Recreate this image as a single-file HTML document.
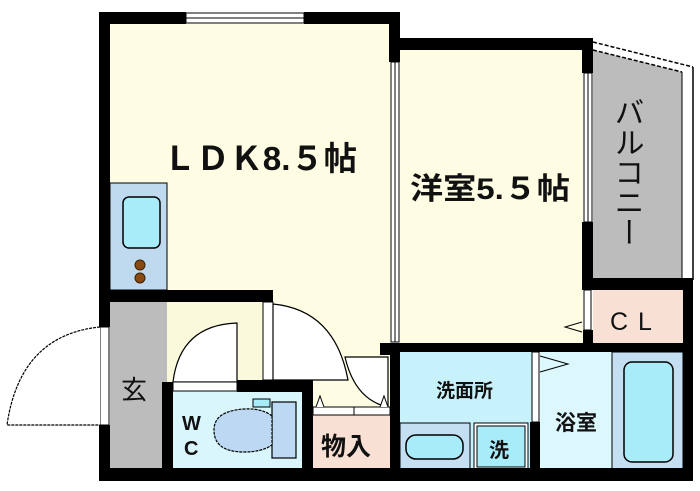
<!DOCTYPE html>
<html><head><meta charset="utf-8"><style>
html,body{margin:0;padding:0;background:#fff;}
svg{display:block;}
text{font-family:"Liberation Sans","Noto Sans CJK JP",sans-serif;font-weight:bold;fill:#111;}
</style></head><body>
<svg width="700" height="491" viewBox="0 0 700 491" xmlns="http://www.w3.org/2000/svg">
<rect width="700" height="491" fill="#fff"/>
<!-- room fills -->
<rect x="110" y="24" width="280" height="278" fill="#fefde3"/>
<rect x="400" y="50" width="183" height="294" fill="#fefde3"/>
<rect x="167" y="302" width="100" height="80" fill="#fbf9dc"/>
<rect x="273" y="290" width="117" height="120" fill="#fefde3"/>
<polygon points="593,50 682,72 682,278 593,278" fill="#bcbcbc"/>
<line x1="593" y1="42" x2="693" y2="67" stroke="#000" stroke-width="1.5" stroke-dasharray="4,2"/>
<line x1="593" y1="50" x2="682" y2="72" stroke="#000" stroke-width="1.5" stroke-dasharray="4,2"/>
<line x1="693" y1="67" x2="693" y2="280" stroke="#000" stroke-width="1.5"/>
<line x1="682" y1="72" x2="682" y2="278" stroke="#000" stroke-width="1"/>
<rect x="593" y="290" width="90" height="53" fill="#f8e0d4"/>
<rect x="110" y="183" width="57" height="107" fill="#bfd9ee" stroke="#000" stroke-width="1"/>
<rect x="123" y="197" width="37" height="51" rx="6" fill="#a8ecfa" stroke="#000" stroke-width="1.5"/>
<circle cx="140" cy="265" r="5" fill="#8a4a14" stroke="#3a2000"/>
<circle cx="140" cy="278" r="5" fill="#8a4a14" stroke="#3a2000"/>
<rect x="110" y="302" width="57" height="168" fill="#bcbcbc"/>
<rect x="173" y="390" width="130" height="80" fill="#d8f6fb"/>
<rect x="313" y="415" width="77" height="55" fill="#f8e0d4"/>
<rect x="400" y="352" width="132" height="118" fill="#c8f2fb"/>
<rect x="400" y="423" width="70" height="47" fill="#c5dff2" stroke="#000" stroke-width="1"/>
<rect x="406" y="435" width="57" height="24" rx="10" fill="#a8ecfa" stroke="#000" stroke-width="1.5"/>
<rect x="474" y="423" width="54" height="47" fill="#fff" stroke="#000" stroke-width="1"/>
<rect x="477" y="426" width="48" height="41" fill="#a8ecfa" stroke="#000" stroke-width="1"/>
<rect x="540" y="352" width="72" height="118" fill="#dcf8fc"/>
<rect x="612" y="352" width="71" height="118" fill="#c5dff2" stroke="#000" stroke-width="1"/>
<rect x="624" y="362" width="49" height="100" rx="8" fill="#a8ecfa" stroke="#000" stroke-width="1.5"/>
<!-- walls -->
<g fill="#000">
<rect x="99" y="12" width="87" height="12"/>
<rect x="304" y="12" width="96" height="12"/>
<rect x="389" y="12" width="11" height="50"/>
<rect x="389" y="38" width="204" height="12"/>
<rect x="582" y="38" width="11" height="35"/>
<rect x="582" y="222" width="11" height="68"/>
<rect x="582" y="278" width="111" height="12"/>
<rect x="683" y="278" width="10" height="203"/>
<rect x="583" y="330" width="10" height="22"/>
<rect x="390" y="343" width="303" height="9"/>
<rect x="99" y="12" width="11" height="315"/>
<rect x="99" y="425" width="11" height="56"/>
<rect x="99" y="290" width="174" height="12"/>
<rect x="263" y="290" width="10" height="12"/>
<rect x="162" y="382" width="11" height="99"/>
<rect x="237" y="380" width="76" height="12"/>
<rect x="302" y="380" width="11" height="101"/>
<rect x="99" y="468" width="594" height="13"/>
<rect x="390" y="343" width="10" height="138"/>
<rect x="380" y="343" width="20" height="12"/>
<rect x="530" y="422" width="10" height="50"/>
</g>
<!-- windows/openings -->
<rect x="186" y="13" width="118" height="10" fill="#fff" stroke="#000" stroke-width="1"/>
<line x1="186" y1="18" x2="304" y2="18" stroke="#000"/>
<rect x="391" y="62" width="8" height="280" fill="#fff" stroke="#000" stroke-width="1"/>
<line x1="395" y1="62" x2="395" y2="342" stroke="#000"/>
<rect x="584" y="73" width="8" height="149" fill="#fff" stroke="#000" stroke-width="1"/>
<line x1="588" y1="73" x2="588" y2="222" stroke="#000"/>
<rect x="100" y="327" width="9" height="98" fill="#fff" stroke="#000" stroke-width="1"/>
<rect x="263" y="302" width="10" height="78" fill="#fff" stroke="#000" stroke-width="1"/>
<rect x="584" y="290" width="7" height="40" fill="#fff" stroke="#000" stroke-width="1"/>
<rect x="532" y="352" width="7" height="70" fill="#fff" stroke="#000" stroke-width="1"/>
<!-- doors -->
<path d="M100,327 Q20,335 7,425 L100,425" fill="#fff" stroke="#000" stroke-width="1.2" stroke-dasharray="3,1"/>
<path d="M237,323 Q180,325 173,382 L237,382 Z" fill="#fff" stroke="#000" stroke-width="1.2"/>
<rect x="173" y="382" width="64" height="9" fill="#fff" stroke="#000"/>
<path d="M273,304 Q335,310 348,380 L273,380 Z" fill="#fff" stroke="#000" stroke-width="1.2"/>
<path d="M345,357 L388,357 L388,407 Q355,400 345,357 Z" fill="#fff" stroke="#000" stroke-width="1.2"/>
<rect x="313" y="407" width="77" height="8" fill="#fff" stroke="#000"/>
<line x1="354" y1="407" x2="354" y2="415" stroke="#000"/>
<path d="M316,407 L320,396 L324,407 M380,407 L384,396 L388,407" fill="#fff" stroke="#000"/>
<path d="M582,322 L565,327 L582,332" fill="none" stroke="#000"/>
<path d="M540,356 L568,364 L540,372" fill="none" stroke="#000"/>
<!-- toilet -->
<rect x="272" y="402" width="24" height="56" fill="#bcd8f2" stroke="#000" stroke-width="1.2"/>
<rect x="253" y="399" width="17" height="8" fill="#a8ecfa" stroke="#000"/>
<path d="M272,416 Q262,408 244,409 Q214,411 214,430 Q214,452 244,452 Q262,452 272,445 Z" fill="#bcd8f2" stroke="#000" stroke-width="1.2" stroke-dasharray="3,1"/>
<!-- labels -->
<text x="163" y="170" font-size="33" textLength="194" lengthAdjust="spacingAndGlyphs">ＬＤＫ8.５帖</text>
<text x="410" y="199" font-size="30" textLength="160" lengthAdjust="spacingAndGlyphs">洋室5.５帖</text>
<text x="626" y="97" font-size="30" writing-mode="tb" style="font-weight:normal;writing-mode:vertical-rl" textLength="150" lengthAdjust="spacing">バルコニー</text>
<text x="610" y="330" font-size="25" style="font-weight:normal;letter-spacing:10px">CL</text>
<text x="121" y="399" font-size="26" style="font-weight:normal">玄</text>
<text x="182" y="430" font-size="20">W</text>
<text x="184" y="455" font-size="20">C</text>
<text x="321" y="455" font-size="25">物入</text>
<text x="436" y="397" font-size="19">洗面所</text>
<text x="489" y="457" font-size="20">洗</text>
<text x="555" y="430" font-size="21">浴室</text>
</svg>
</body></html>
